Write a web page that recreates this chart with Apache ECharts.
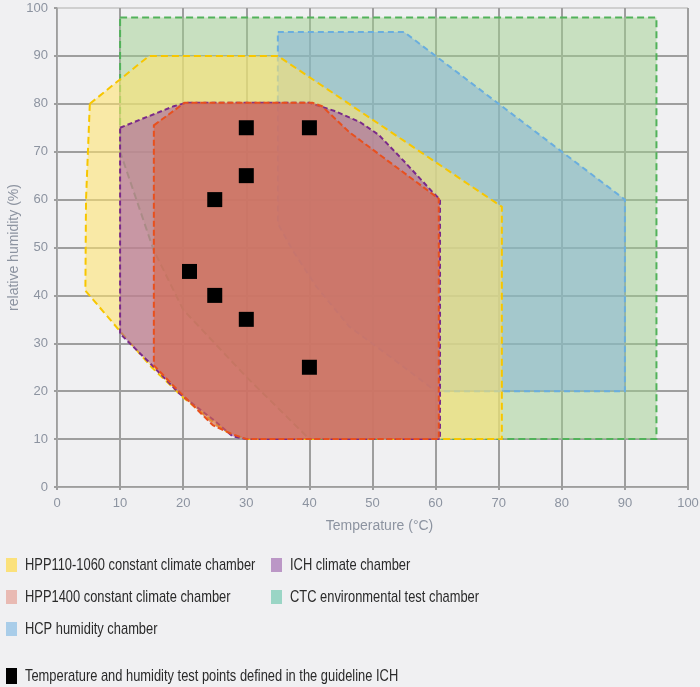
<!DOCTYPE html>
<html>
<head>
<meta charset="utf-8">
<script src="https://cdn.jsdelivr.net/npm/echarts@6/dist/echarts.min.js"></script>
<style>
html,body{margin:0;padding:0;background:#f0f0f2;}
#chart{width:700px;height:687px;}
</style>
</head>
<body>
<div id="chart"></div>
<script>
// ---- data ----
var xTicks = [0,10,20,30,40,50,60,70,80,90,100];
var yTicks = [0,10,20,30,40,50,60,70,80,90,100];

var seriesNames = [
  'HPP110-1060 constant climate chamber',
  'HPP1400 constant climate chamber',
  'HCP humidity chamber',
  'ICH climate chamber',
  'CTC environmental test chamber',
  'Temperature and humidity test points defined in the guideline ICH'
];
var legendColors = ['#fbe17b', '#e9bab3', '#a9cde9', '#bb97c6', '#9ad5c5', '#000000'];

// operating ranges [temperature °C, relative humidity %]
var ctcRange = [[10,98],[95,98],[95,10],[40,10],[35,16.5],[30,23],[25,30],[20,37],[15.3,49.5],[10,70]];
var hcpRange = [[35,95],[55,95],[90,60],[90,20],[60,20],[53,27],[46.3,33.5],[41,42],[37.3,49.5],[35,55]];
var hpp110Range = [[5.2,80],[14.6,90],[35,90],[70.5,58.5],[70.5,10],[30,10],[27,11.5],[25,13.3],[20,18.7],[15,25],[10,32.5],[4.5,41],[4.6,60]];
var ichRange = [[10,75],[18.5,79.5],[20.5,80.2],[40,80.2],[44,78.5],[48,76.2],[51,73.5],[55,68],[59.5,61.6],[60.7,60],[60.7,10],[30,10],[27.8,10.6],[25,13.8],[19.4,19.5],[15,25.5],[10,32]];
var hpp1400Range = [[15.35,75.5],[20.2,80.2],[40.5,80.2],[42,79.5],[46.3,74.1],[60.5,60.2],[60.5,10],[30,10],[27.8,11],[24.7,12.9],[18.4,21.2],[15.35,25.4]];

var ichPoints = [[30,75],[40,75],[30,65],[25,60],[21,45],[25,40],[30,35],[40,25]];

// ---- chart ----
var FONT = '"Liberation Sans","Arimo",Arial,sans-serif';

function polySeries(name, pts, fill, stroke, dash){
  return {
    name: name,
    type: 'custom',
    coordinateSystem: 'cartesian2d',
    clip: true,
    itemStyle: {color: stroke},
    encode: {x: 0, y: 1},
    data: pts,
    renderItem: function(params, api){
      if (params.dataIndex !== 0) return null;
      var p = pts.map(function(d){ return api.coord(d); });
      return {
        type: 'polygon',
        shape: {points: p},
        style: {fill: fill, stroke: stroke, lineWidth: 2, lineDash: dash}
      };
    }
  };
}

// legend layout: [column x, row y] per entry
var legendPos = [[6,565],[6,597],[6,629],[271,565],[271,597],[6,676]];
var legendGraphics = [];
seriesNames.forEach(function(n, i){
  var pos = legendPos[i];
  var h = (i === 5) ? 16 : 14;
  legendGraphics.push({
    type: 'rect', x: pos[0], y: pos[1] - h/2,
    shape: {x: 0, y: 0, width: 11, height: h},
    style: {fill: legendColors[i]}
  });
  legendGraphics.push({
    type: 'text', x: pos[0] + 19, y: pos[1], scaleX: 0.758,
    style: {text: n, x: 0, y: 0, fill: '#2a2a2a', font: '17px ' + FONT, verticalAlign: 'middle', align: 'left'}
  });
});

var chart = echarts.init(document.getElementById('chart'));
var axisColor = '#8c93a0';
var gridColors = [];
for (var i = 0; i < 10; i++) gridColors.push('#9e9e9e');
gridColors.push('#cfcfcf');

chart.setOption({
  backgroundColor: '#f0f0f2',
  animation: false,
  grid: {left: 57, right: 12, top: 8, bottom: 200, outerBoundsMode: 'none', containLabel: false},
  xAxis: {
    type: 'value', min: 0, max: 100, interval: 10,
    name: 'Temperature (°C)', nameLocation: 'middle', nameGap: 32, nameMoveOverlap: false,
    nameTextStyle: {color: axisColor, fontSize: 14, fontFamily: FONT, padding: [0,0,0,14]},
    axisLine: {show: true, lineStyle: {color: '#a8a8a8', width: 1}},
    axisTick: {show: true, length: 3, lineStyle: {color: '#9e9e9e', width: 2}},
    axisLabel: {color: axisColor, fontSize: 13, fontFamily: FONT, margin: 10},
    splitLine: {show: true, lineStyle: {color: '#9e9e9e', width: 2}}
  },
  yAxis: {
    type: 'value', min: 0, max: 100, interval: 10,
    name: 'relative humidity (%)', nameLocation: 'middle', nameGap: 36, nameMoveOverlap: false,
    nameTextStyle: {color: axisColor, fontSize: 14, fontFamily: FONT},
    axisLine: {show: true, lineStyle: {color: '#a8a8a8', width: 1}},
    axisTick: {show: true, length: 3, lineStyle: {color: '#9e9e9e', width: 2}},
    axisLabel: {color: axisColor, fontSize: 13, fontFamily: FONT, margin: 9},
    splitLine: {show: true, lineStyle: {color: gridColors, width: 2}}
  },
  graphic: legendGraphics,
  series: [
    polySeries(seriesNames[4], ctcRange, 'rgba(160,208,142,0.5)', '#52b25a', [7,4]),
    polySeries(seriesNames[2], hcpRange, 'rgba(128,176,216,0.5)', '#6aaede', [6,4]),
    polySeries(seriesNames[0], hpp110Range, 'rgba(255,228,110,0.58)', '#f7c600', [7,4]),
    polySeries(seriesNames[3], ichRange, 'rgba(160,84,162,0.55)', '#7a2a8a', [5,3]),
    polySeries(seriesNames[1], hpp1400Range, 'rgba(215,105,78,0.62)', '#e8501e', [6,3]),
    {
      name: seriesNames[5], type: 'scatter', symbol: 'rect', symbolSize: 15,
      itemStyle: {color: '#000', opacity: 1},
      data: ichPoints, z: 5
    }
  ]
});
</script>
</body>
</html>
